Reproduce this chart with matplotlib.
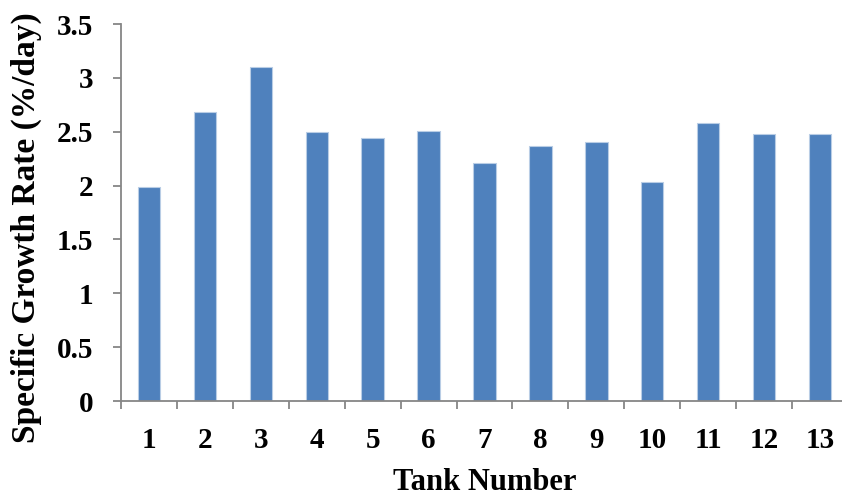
import matplotlib
matplotlib.use("Agg")
import matplotlib.pyplot as plt
import numpy as np

tanks = ["1", "2", "3", "4", "5", "6", "7", "8", "9", "10", "11", "12", "13"]
growth_rate = [1.99, 2.68, 3.10, 2.50, 2.44, 2.51, 2.21, 2.37, 2.40, 2.03, 2.58, 2.48, 2.48]
y_ticks = [0, 0.5, 1, 1.5, 2, 2.5, 3, 3.5]
y_tick_labels = ["0", "0.5", "1", "1.5", "2", "2.5", "3", "3.5"]

plt.rcParams["font.family"] = ["Liberation Serif", "DejaVu Serif"]
plt.rcParams["font.weight"] = "bold"

W, H = 842, 498
fig = plt.figure(figsize=(W / 100, H / 100), dpi=100)
# axes run slightly past the right edge of the canvas
left, right, bottom, top = 121, 848, 401, 24
ax = fig.add_axes([left / W, (H - bottom) / H, (right - left) / W, (bottom - top) / H])

x = np.arange(len(tanks))
ax.bar(x, growth_rate, width=0.4, color="#4F81BD", edgecolor="#B9CDE5", linewidth=0.8, zorder=2)

ax.set_xlim(-0.5, len(tanks) - 0.5)
ax.set_ylim(0, 3.5)

axis_grey = "#868686"
for s in ["top", "right"]:
    ax.spines[s].set_visible(False)
for s in ["left", "bottom"]:
    ax.spines[s].set_color(axis_grey)
    ax.spines[s].set_linewidth(1.3)

ax.set_yticks(y_ticks)
ax.set_yticklabels(y_tick_labels)
ax.tick_params(axis="y", length=6, width=1.3, color=axis_grey, pad=14, labelsize=21)

# labels at category centres, tick marks at category boundaries
ax.set_xticks(x)
ax.set_xticklabels(tanks)
ax.tick_params(axis="x", which="major", length=0, pad=19, labelsize=21)
ax.set_xticks(np.arange(-0.5, len(tanks), 1.0), minor=True)
ax.tick_params(axis="x", which="minor", length=6, width=1.3, color=axis_grey)

ax.set_xlabel("Tank Number", fontsize=22, fontweight="bold", labelpad=10)
ax.set_ylabel("Specific Growth Rate (%/day)", fontsize=24, fontweight="bold")
ax.yaxis.set_label_coords(-0.109, 0.459)

fig.savefig("out.png", dpi=100)
